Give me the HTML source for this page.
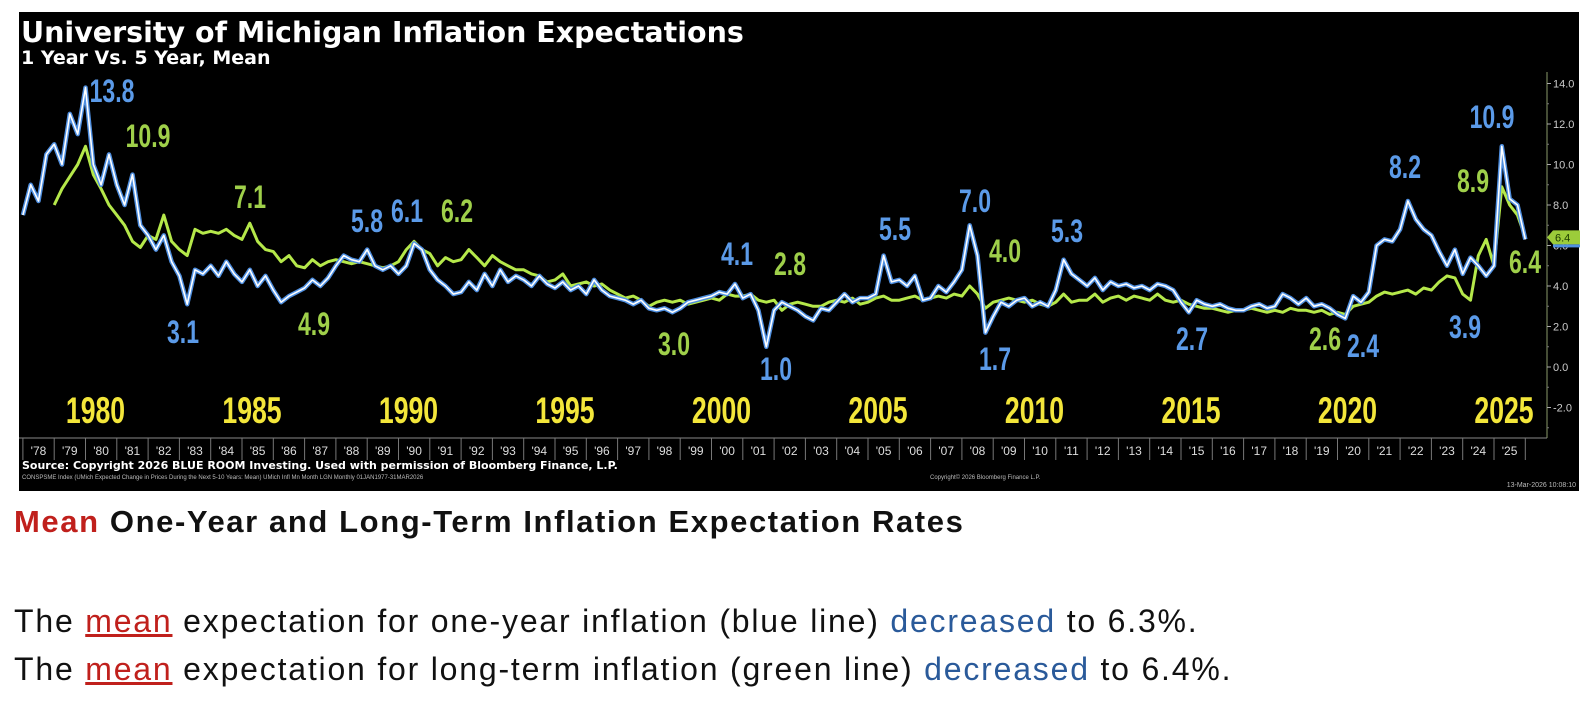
<!DOCTYPE html>
<html><head><meta charset="utf-8">
<style>
body{margin:0;background:#fff;width:1596px;height:716px;overflow:hidden;font-family:"Liberation Sans",sans-serif;}
#chart{position:absolute;left:0;top:0;}
.txt{position:absolute;left:14px;color:#111;white-space:nowrap;}
</style></head>
<body>
<svg id="chart" width="1596" height="500">
<rect x="19" y="12" width="1560" height="479" fill="#000"/>
<text x="21" y="42" fill="#fff" font-size="28.5" font-weight="bold" font-family="DejaVu Sans, Liberation Sans, sans-serif">University of Michigan Inflation Expectations</text>
<text x="21" y="64" fill="#fff" font-size="19" font-weight="bold" font-family="DejaVu Sans, Liberation Sans, sans-serif">1 Year Vs. 5 Year, Mean</text>
<g id="axes"></g><g id="years"></g><g id="lines"></g><g id="annos"></g>
<text x="22" y="469" fill="#fff" font-size="11" font-weight="bold" font-family="DejaVu Sans, sans-serif">Source: Copyright 2026 BLUE ROOM Investing. Used with permission of Bloomberg Finance, L.P.</text>
<text x="22" y="479" fill="#bbb" font-size="6">CONSPSME Index (UMich Expected Change in Prices During the Next 5-10 Years: Mean) UMich Infl Mn Month LGN Monthly 01JAN1977-31MAR2026</text>
<text x="930" y="479" fill="#bbb" font-size="6">Copyright© 2026 Bloomberg Finance L.P.</text>
<text x="1576" y="487" fill="#bbb" font-size="7" text-anchor="end">13-Mar-2026 10:08:10</text>
</svg>
<div class="txt" style="top:504px;font-size:31px;font-weight:bold;letter-spacing:1.6px;"><span style="color:#c0201c">Mean</span> One-Year and Long-Term Inflation Expectation Rates</div>
<div class="txt" style="top:603px;font-size:32px;letter-spacing:1.8px;">The <u style="color:#c0201c">mean</u> expectation for one-year inflation (blue line) <span style="color:#2a5a9a">decreased</span> to 6.3%.</div>
<div class="txt" style="top:651px;font-size:32px;letter-spacing:1.8px;">The <u style="color:#c0201c">mean</u> expectation for long-term inflation (green line) <span style="color:#2a5a9a">decreased</span> to 6.4%.</div>
<script>
const yTicks=[14,12,10,8,6,4,2,0,-2];
const yTickLabels=["14.0","12.0","10.0","8.0","6.0","4.0","2.0","0.0","-2.0"];
const xYears=[];for(let y=1978;y<=2025;y++)xYears.push(y);
const bigYears=[1980,1985,1990,1995,2000,2005,2010,2015,2020,2025];
const blueStart=1978.0;
const blueValues=[7.5,9.0,8.2,10.5, 11.0,10.0,12.5,11.5, 13.8,10.0,9.0,10.5, 9.0,8.0,9.5,7.0, 6.5,5.8,6.5,5.2, 4.5,3.1,4.8,4.6, 5.0,4.5,5.2,4.6, 4.2,4.8,4.0,4.5, 3.8,3.2,3.5,3.7, 3.9,4.3,4.0,4.4, 5.0,5.5,5.3,5.2, 5.8,5.0,4.8,5.0, 4.6,5.0,6.1,5.8, 4.8,4.3,4.0,3.6, 3.7,4.2,3.8,4.6, 4.0,4.8,4.2,4.5, 4.3,4.0,4.5,4.1, 3.9,4.2,3.8,4.0, 3.6,4.3,3.8,3.5, 3.4,3.3,3.1,3.3, 2.9,2.8,2.9,2.7, 2.9,3.2,3.3,3.4, 3.5,3.7,3.6,4.1, 3.4,3.6,2.8,1.0, 2.8,3.2,3.0,2.8, 2.5,2.3,2.9,2.8, 3.2,3.6,3.2,3.4, 3.4,3.6,5.5,4.2, 4.3,4.0,4.5,3.3, 3.4,4.0,3.7,4.2, 4.8,7.0,5.5,1.7, 2.5,3.2,3.0,3.3, 3.4,3.0,3.2,3.0, 3.8,5.3,4.6,4.3, 4.0,4.4,3.8,4.2, 4.0,4.1,3.9,4.0, 3.8,4.1,4.0,3.8, 3.2,2.7,3.3,3.1, 3.0,3.1,2.9,2.8, 2.8,3.0,3.1,2.9, 3.0,3.6,3.4,3.1, 3.4,3.0,3.1,2.9, 2.6,2.4,3.5,3.2, 3.7,6.0,6.3,6.2, 6.8,8.2,7.3,6.8, 6.5,5.7,5.0,5.8, 4.6,5.4,5.0,4.5, 5.0,10.9,8.3,8.0, 6.3];
const greenStart=1979.0;
const greenValues=[8.0,8.8,9.4,10.0, 10.9,9.5,8.8,8.0, 7.5,7.0,6.2,5.9, 6.5,6.3,7.5,6.2, 5.8,5.5,6.8,6.6, 6.7,6.6,6.8,6.5, 6.3,7.1,6.2,5.8, 5.7,5.2,5.5,5.0, 4.9,5.3,5.0,5.2, 5.3,5.2,5.1,5.2, 5.1,5.0,4.9,5.0, 5.2,5.8,6.2,5.8, 5.6,5.0,5.4,5.2, 5.3,5.8,5.4,5.0, 5.5,5.2,5.0,4.8, 4.8,4.6,4.5,4.2, 4.3,4.6,4.0,4.1, 4.2,4.0,4.1,3.8, 3.6,3.4,3.5,3.3, 3.0,3.2,3.3,3.2, 3.3,3.1,3.2,3.3, 3.4,3.3,3.6,3.5, 3.5,3.6,3.3,3.2, 3.3,2.8,3.1,3.2, 3.1,3.0,3.0,3.2, 3.3,3.2,3.4,3.1, 3.2,3.4,3.5,3.3, 3.3,3.4,3.5,3.3, 3.4,3.5,3.4,3.6, 3.5,4.0,3.6,2.9, 3.2,3.3,3.4,3.3, 3.2,3.3,3.1,3.0, 3.2,3.6,3.2,3.3, 3.3,3.6,3.2,3.4, 3.5,3.3,3.5,3.4, 3.3,3.6,3.3,3.2, 3.3,3.1,3.0,2.9, 2.9,2.8,2.7,2.8, 2.8,2.9,2.8,2.7, 2.8,2.7,2.9,2.8, 2.8,2.7,2.8,2.6, 2.7,2.6,3.0,3.1, 3.2,3.5,3.7,3.6, 3.7,3.8,3.6,3.9, 3.8,4.2,4.5,4.4, 3.6,3.3,5.5,6.3, 5.0,8.9,8.0,7.5, 6.4];
const annoLabels=["13.8","10.9","7.1","3.1","4.9","5.8","6.1","6.2","3.0","4.1","1.0","2.8","5.5","7.0","4.0","1.7","5.3","2.7","2.6","2.4","8.2","8.9","3.9","6.4","10.9"];
const annoSeries=["b","g","g","b","g","b","b","g","g","b","b","g","b","b","g","b","b","b","g","b","b","g","b","g","b"];
const annoPos=[[112,102],[148,147],[250,208],[183,343],[314,335],[367,232],[407,222],[457,222],[674,355],[737,265],[776,380],[790,275],[895,240],[975,212],[1005,262],[995,370],[1067,242],[1192,350],[1325,350],[1363,357],[1405,178],[1473,192],[1465,338],[1525,273],[1492,128]];

const NS="http://www.w3.org/2000/svg";
const X=y=>1494+(y-2025)*31.3;
const Y=v=>367-v*20.25;
function mk(tag,attrs,parent,text){const e=document.createElementNS(NS,tag);for(const k in attrs)e.setAttribute(k,attrs[k]);if(text!==undefined)e.textContent=text;parent.appendChild(e);return e;}
const axes=document.getElementById('axes');
let e=mk('line',{x1:1547,y1:72,x2:1547,y2:438,stroke:'#8a9a6a','stroke-width':1},axes);

e=mk('line',{x1:19,y1:438,x2:1547,y2:438,stroke:'#888','stroke-width':1},axes);

yTicks.forEach((v,i)=>{
  mk('line',{x1:1547,y1:Y(v),x2:1551,y2:Y(v),stroke:'#aaa'},axes);
  mk('line',{x1:1547,y1:Y(v-1),x2:1549,y2:Y(v-1),stroke:'#777'},axes);
  const t=mk('text',{x:1553,y:Y(v)+4,fill:'#ccc','font-size':11},axes,yTickLabels[i]);
  
});
xYears.forEach(y=>{
  mk('line',{x1:X(y),y1:438,x2:X(y),y2:460,stroke:'#777'},axes);
  const t=mk('text',{x:X(y)+15.6,y:455,fill:'#ddd','font-size':12,'text-anchor':'middle'},axes,"'"+String(y).slice(2));
  
});
mk('line',{x1:X(2026),y1:438,x2:X(2026),y2:460,stroke:'#777'},axes);
const yrs=document.getElementById('years');
bigYears.forEach(y=>{
  const t=mk('text',{x:0,y:0,transform:`translate(${X(y)+10},423) scale(0.72,1)`,fill:'#f3e63a','font-size':37,'font-weight':'bold','text-anchor':'middle'},yrs,String(y));
  
});
function pts(start,vals){return vals.map((v,i)=>X(start+i*0.25).toFixed(1)+','+Y(v).toFixed(1)).join(' ');}
const lines=document.getElementById('lines');
const gp=pts(greenStart,greenValues), bp=pts(blueStart,blueValues);
e=mk('polyline',{points:gp,fill:'none',stroke:'#b5e84a','stroke-width':3,'stroke-linejoin':'round'},lines);

e=mk('polyline',{points:bp,fill:'none',stroke:'#4f8fe0','stroke-width':4.5,'stroke-linejoin':'round'},lines);

e=mk('polyline',{points:bp,fill:'none',stroke:'#fff','stroke-width':1.6,'stroke-linejoin':'round'},lines);

const ty=Y(greenValues[greenValues.length-1]);
e=mk('path',{d:`M1547,${ty} l6,-7 h27 v14 h-27 z`,fill:'#9ccc3a'},axes);

mk('rect',{x:1553,y:ty+7,width:27,height:3,fill:'#4f8fe0'},axes);
e=mk('text',{x:1555,y:ty+4,fill:'#1a3a00','font-size':11},axes,greenValues[greenValues.length-1].toFixed(1));

const an=document.getElementById('annos');
annoLabels.forEach((s,i)=>{
  const t=mk('text',{x:0,y:0,transform:`translate(${annoPos[i][0]},${annoPos[i][1]}) scale(0.72,1)`,fill:annoSeries[i]==='b'?'#5b9ae8':'#9fd04a','font-size':32,'font-weight':'bold','text-anchor':'middle'},an,s);
  
});
</script>
</body></html>
